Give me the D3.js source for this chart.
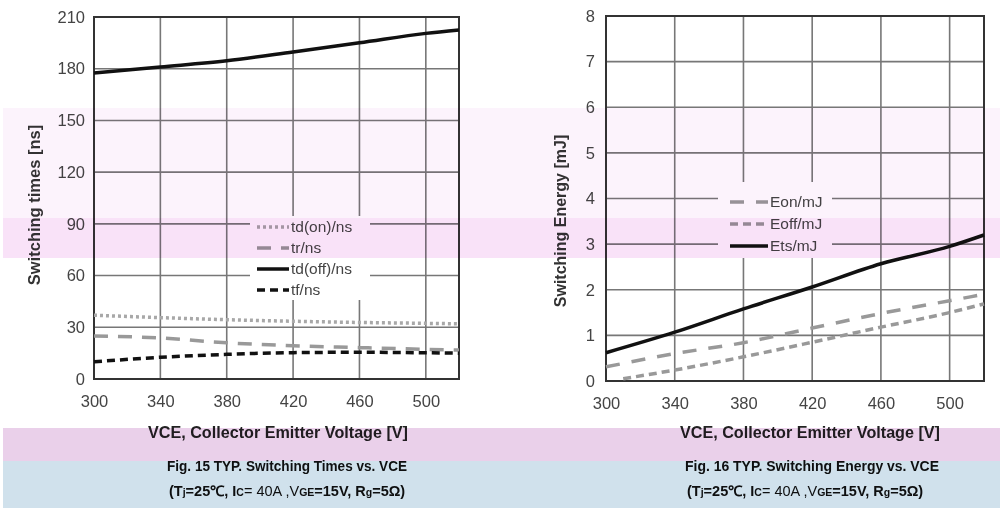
<!DOCTYPE html>
<html><head><meta charset="utf-8">
<script src="https://cdn.jsdelivr.net/npm/d3@7"></script>
<style>
body{margin:0;background:#fff;}
svg{display:block;font-family:"Liberation Sans",Arial,sans-serif;}
.band{mix-blend-mode:multiply;}
</style></head><body>
<svg id="c" width="1000" height="508"></svg>
<script>
// ---- Data ----
const xTicks = [300, 340, 380, 420, 460, 500];
const timeTicks = [0, 30, 60, 90, 120, 150, 180, 210];
const energyTicks = [0, 1, 2, 3, 4, 5, 6, 7, 8];

const vce = [300, 340, 380, 420, 460, 500, 520];
const tdOn  = [37, 35.6, 34.4, 33.5, 32.8, 32.3, 32];
const tr    = [25, 23.8, 21, 19.3, 18.2, 17.2, 16.8];
const tdOff = [177.5, 181, 184.6, 189.7, 195, 200.5, 202.5];
const tf    = [10, 12.6, 14.3, 15.3, 15.5, 15.2, 15];

const vceEoff = [310, 340, 380, 420, 460, 500, 520];
const eon  = [0.31, 0.6, 0.84, 1.16, 1.48, 1.76, 1.9];
const eoff = [0.05, 0.24, 0.53, 0.85, 1.18, 1.5, 1.69];
const ets  = [0.62, 1.07, 1.58, 2.06, 2.57, 2.95, 3.2];

const timeSeries = [
  {name:"td(on)/ns", y:tdOn, x:vce, color:"#a8a8a8", dash:"3,3", w:3.5},
  {name:"tr/ns", y:tr, x:vce, color:"#999", dash:"14,10", w:3.5},
  {name:"td(off)/ns", y:tdOff, x:vce, color:"#111", dash:null, w:3.5},
  {name:"tf/ns", y:tf, x:vce, color:"#111", dash:"8,5", w:3.5}
];
const energySeries = [
  {name:"Eon/mJ", y:eon, x:vce, color:"#999", dash:"14,12", w:3.5},
  {name:"Eoff/mJ", y:eoff, x:vceEoff, color:"#999", dash:"8,5", w:3.5},
  {name:"Ets/mJ", y:ets, x:vce, color:"#111", dash:null, w:3.5}
];

const svg = d3.select("#c");

function chart(opt){
  const g = svg.append("g");
  const x = d3.scaleLinear().domain([300,520]).range([opt.x0, opt.x1]);
  const y = d3.scaleLinear().domain(opt.ydom).range([opt.y0, opt.y1]);
  // grid
  g.append("g").selectAll("line").data(xTicks.slice(1)).join("line")
    .attr("x1",d=>x(d)).attr("x2",d=>x(d)).attr("y1",opt.y0).attr("y2",opt.y1)
    .attr("stroke","#777").attr("stroke-width",1.6);
  g.append("g").selectAll("line").data(opt.yticks.slice(1,-1)).join("line")
    .attr("x1",opt.x0).attr("x2",opt.x1).attr("y1",d=>y(d)).attr("y2",d=>y(d))
    .attr("stroke","#777").attr("stroke-width",1.6);
  // legend background
  g.append("rect").attr("x",opt.leg.x).attr("y",opt.leg.y).attr("width",opt.leg.w).attr("height",opt.leg.h).attr("fill","#fff");
  // frame
  g.append("rect").attr("x",opt.x0).attr("y",opt.y1).attr("width",opt.x1-opt.x0).attr("height",opt.y0-opt.y1)
    .attr("fill","none").attr("stroke","#333").attr("stroke-width",2);
  // axes (labels only)
  const ax = g.append("g").attr("transform",`translate(0,${opt.y0})`)
    .call(d3.axisBottom(x).tickValues(xTicks).tickSize(0).tickPadding(opt.xpad));
  ax.select(".domain").remove();
  ax.selectAll("text").attr("font-size",16.5).attr("fill","#444").attr("font-family","Liberation Sans, Arial");
  const ay = g.append("g").attr("transform",`translate(${opt.x0},0)`)
    .call(d3.axisLeft(y).tickValues(opt.yticks).tickSize(0).tickPadding(opt.ypad));
  ay.select(".domain").remove();
  ay.selectAll("text").attr("font-size",16.5).attr("fill","#444").attr("font-family","Liberation Sans, Arial");
  // lines
  opt.series.forEach(s=>{
    const pts = s.x.map((v,i)=>[v,s.y[i]]);
    g.append("path").datum(pts)
      .attr("d", d3.line().x(d=>x(d[0])).y(d=>y(d[1])).curve(d3.curveMonotoneX))
      .attr("fill","none").attr("stroke",s.color).attr("stroke-width",s.w)
      .attr("stroke-dasharray",s.dash);
  });
  // legend
  opt.series.forEach((s,i)=>{
    const ly = opt.leg.ty + i*opt.leg.dy;
    g.append("line").attr("x1",opt.leg.lx).attr("x2",opt.leg.lx+opt.leg.lw).attr("y1",ly).attr("y2",ly)
      .attr("stroke",s.color).attr("stroke-width",s.w).attr("stroke-dasharray",s.dash);
    g.append("text").attr("x",opt.leg.lx+opt.leg.lw+2).attr("y",ly+5).text(s.name)
      .attr("font-size",15.5).attr("fill","#444");
  });
  // y title
  g.append("text").attr("transform",`translate(${opt.yt[0]},${opt.yt[1]}) rotate(-90)`)
    .attr("text-anchor","middle").attr("font-size",opt.ytsize).attr("font-weight","bold").attr("fill","#333").text(opt.ytitle);
  // x title
  g.append("text").attr("x",opt.xt).attr("y",438).attr("text-anchor","middle")
    .attr("font-size",16).attr("font-weight","bold").attr("fill","#222")
    .attr("textLength",260).attr("lengthAdjust","spacingAndGlyphs")
    .text("VCE, Collector Emitter Voltage [V]");
  g.append("text").attr("x",opt.cap).attr("y",471).attr("font-size",15.5).attr("font-weight","bold").attr("fill","#111")
    .attr("textLength",opt.capw).attr("lengthAdjust","spacingAndGlyphs").text(opt.title);
  const sub = g.append("text").attr("x",opt.cap+2).attr("y",496).attr("font-size",14.5).attr("font-weight","bold").attr("fill","#111");
  sub.append("tspan").text("(T");
  sub.append("tspan").attr("font-size",10.5).text("j");
  sub.append("tspan").text("=25℃, I");
  sub.append("tspan").attr("font-size",10.5).text("C");
  sub.append("tspan").attr("font-weight","normal").text("= 40A ,V");
  sub.append("tspan").attr("font-size",10.5).text("GE");
  sub.append("tspan").text("=15V, R");
  sub.append("tspan").attr("font-size",10.5).text("g");
  sub.append("tspan").text("=5Ω)");
}

chart({x0:94,x1:459,y0:379,y1:17,ydom:[0,210],yticks:timeTicks,series:timeSeries,
  xpad:16,ypad:9,leg:{x:250,y:216,w:120,h:84,lx:257,lw:32,ty:227,dy:21},
  yt:[40,205],ytsize:16.5,ytitle:"Switching times [ns]",xt:278,cap:167,capw:240,
  title:"Fig. 15 TYP. Switching Times vs. VCE"});
chart({x0:606,x1:984,y0:381,y1:16,ydom:[0,8],yticks:energyTicks,series:energySeries,
  xpad:16,ypad:11,leg:{x:718,y:182,w:114,h:76,lx:730,lw:38,ty:202,dy:22},
  yt:[566,221],ytsize:16,ytitle:"Switching Energy [mJ]",xt:810,cap:685,capw:254,
  title:"Fig. 16 TYP. Switching Energy vs. VCE"});

// scan colour bands
const bands = [
  {y:108,h:110,c:"#fcf3fc"},
  {y:218,h:40,c:"#f9e2f8"},
  {y:428,h:33,c:"#ead0ea"},
  {y:461,h:47,c:"#d0e1ec"}
];
svg.append("g").selectAll("rect").data(bands).join("rect").attr("class","band")
  .attr("x",3).attr("y",d=>d.y).attr("width",997).attr("height",d=>d.h).attr("fill",d=>d.c);
</script>
</body></html>
